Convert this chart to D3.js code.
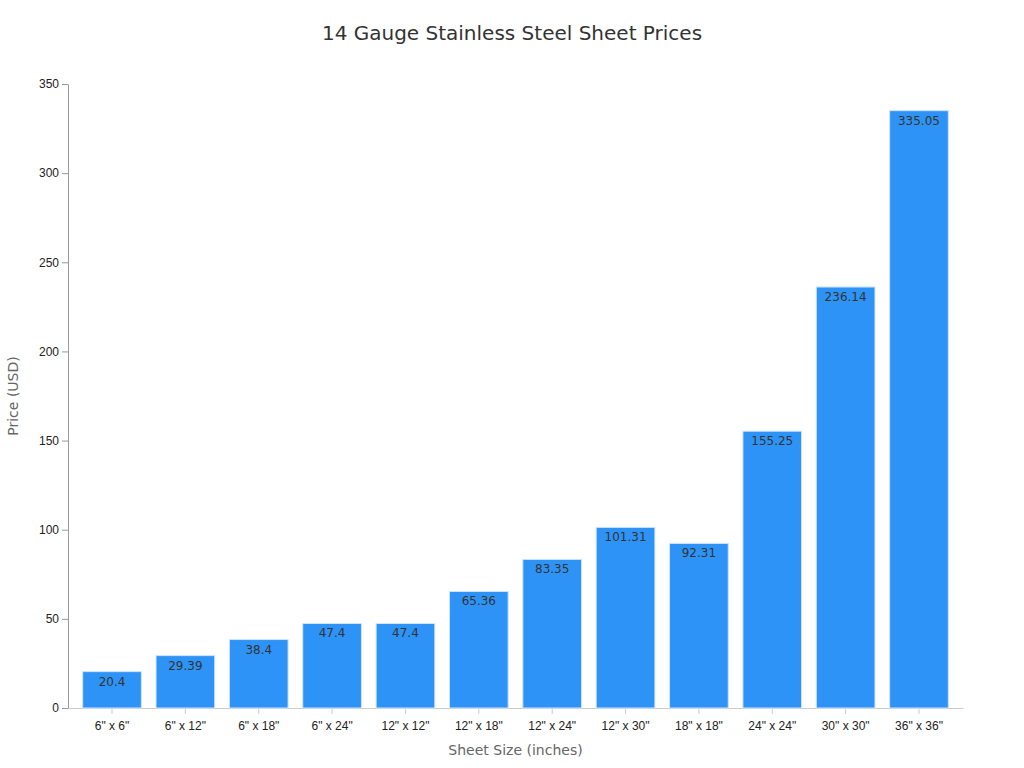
<!DOCTYPE html>
<html><head><meta charset="utf-8">
<script src="https://cdn.jsdelivr.net/npm/d3@7/dist/d3.min.js"></script>
<style>body{margin:0;background:#fff;font-family:"DejaVu Sans",sans-serif}</style>
</head><body><div id="chart"></div>
<script>
// data
let sizes = ['6" x 6"','6" x 12"','6" x 18"','6" x 24"','12" x 12"','12" x 18"','12" x 24"','12" x 30"','18" x 18"','24" x 24"','30" x 30"','36" x 36"'];
let prices = [20.4,29.39,38.4,47.4,47.4,65.36,83.35,101.31,92.31,155.25,236.14,335.05];
let yTicks = [0,50,100,150,200,250,300,350];

let w = 1024, h = 768;
let m = {top:84, right:61, bottom:60, left:68};

let svg = d3.select("#chart").append("svg").attr("width", w).attr("height", h);

let x = d3.scaleBand().domain(sizes).range([m.left, w - m.right]).padding(0.2);
let y = d3.scaleLinear().domain([0,350]).range([h - m.bottom, m.top]);

svg.append("text").attr("x", w/2).attr("y", 40).attr("text-anchor","middle")
  .attr("font-size", 20).attr("fill","#333").text("14 Gauge Stainless Steel Sheet Prices");

let xAxis = svg.append("g").attr("transform", `translate(0,${h - m.bottom})`)
  .call(d3.axisBottom(x).tickSizeOuter(0));
xAxis.selectAll("text").attr("font-size", 12).attr("fill","#222").attr("dy","1.1em");
xAxis.selectAll("line, path").attr("stroke","#ccc");

let yAxis = svg.append("g").attr("transform", `translate(${m.left},0)`)
  .call(d3.axisLeft(y).tickValues(yTicks).tickSizeOuter(0));
yAxis.selectAll("text").attr("font-size", 12).attr("fill","#222");
yAxis.selectAll("line, path").attr("stroke","#999");

svg.selectAll(".bar").data(prices).enter().append("rect")
  .attr("x", (d,i) => x(sizes[i])).attr("width", x.bandwidth())
  .attr("y", d => y(d)).attr("height", d => y(0) - y(d))
  .attr("fill","#2e93f7").attr("stroke","#d0e4fb").attr("stroke-width",1);

svg.selectAll(".lbl").data(prices).enter().append("text")
  .attr("x", (d,i) => x(sizes[i]) + x.bandwidth()/2).attr("y", d => y(d) + 14)
  .attr("text-anchor","middle").attr("font-size", 12).attr("fill","#333")
  .text(d => d);

svg.append("text").attr("x", (m.left + w - m.right)/2).attr("y", 755)
  .attr("text-anchor","middle").attr("font-size", 14).attr("fill","#666").text("Sheet Size (inches)");
svg.append("text").attr("transform", `translate(18,${(m.top + h - m.bottom)/2}) rotate(-90)`)
  .attr("text-anchor","middle").attr("font-size", 14).attr("fill","#666").text("Price (USD)");
</script></body></html>
